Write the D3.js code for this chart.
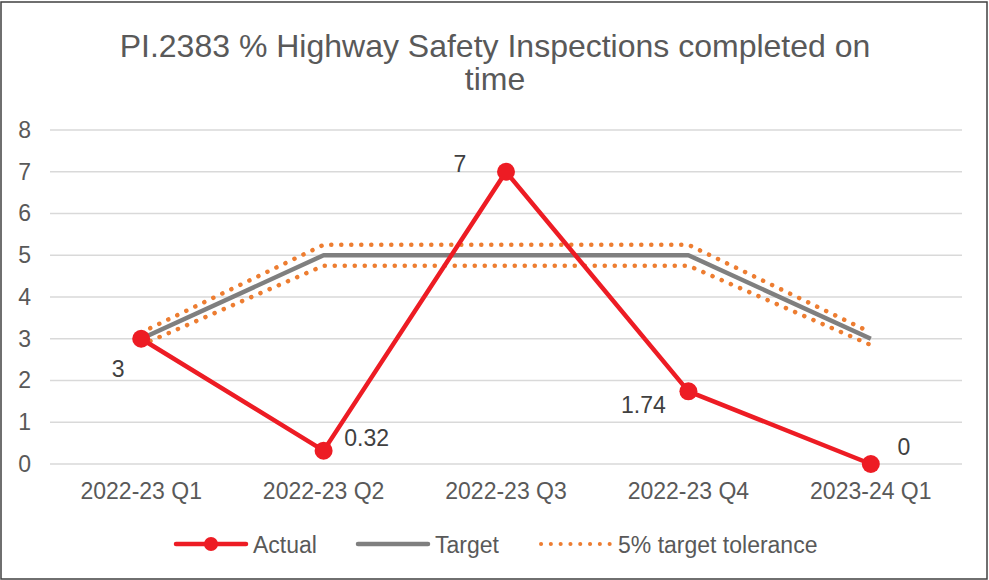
<!DOCTYPE html>
<html>
<head>
<meta charset="utf-8">
<script src="https://cdn.jsdelivr.net/npm/d3@7"></script>
<style>
  body { margin: 0; background: #fff; }
  svg text { font-family: "Liberation Sans", Arial, sans-serif; }
</style>
</head>
<body>
<div id="chart"></div>
<script>
const categories = ["2022-23 Q1", "2022-23 Q2", "2022-23 Q3", "2022-23 Q4", "2023-24 Q1"];
const actual = [3, 0.32, 7, 1.74, 0];
const target = [3, 5, 5, 5, 3];
const tolerance = 0.05;
const yTicks = [0, 1, 2, 3, 4, 5, 6, 7, 8];
const labelOffsets = [[-23, 30], [43, -13], [-46, -8], [-45, 14], [33, -17]];

const width = 989;
const height = 580;
const margin = { left: 50, right: 27, top: 130, bottom: 116 };

const svg = d3.select("#chart").append("svg")
  .attr("width", width)
  .attr("height", height);

svg.append("rect")
  .attr("x", 1).attr("y", 2)
  .attr("width", width - 3).attr("height", height - 3)
  .attr("fill", "#fff")
  .attr("stroke", "#404040")
  .attr("stroke-width", 1.5);

const x = d3.scaleBand()
  .domain(categories)
  .range([margin.left, width - margin.right]);

const y = d3.scaleLinear()
  .domain([0, 8])
  .range([height - margin.bottom, margin.top]);

const cx = (d) => x(d) + x.bandwidth() / 2;
const fs = 23;

// title
const title = svg.append("text")
  .attr("text-anchor", "middle")
  .attr("fill", "#595959")
  .attr("font-size", 32);
title.append("tspan").attr("x", 495).attr("y", 57).text("PI.2383 % Highway Safety Inspections completed on");
title.append("tspan").attr("x", 495).attr("y", 90).text("time");

// gridlines
svg.append("g")
  .selectAll("line")
  .data(yTicks)
  .join("line")
  .attr("x1", margin.left).attr("x2", width - margin.right)
  .attr("y1", (d) => y(d)).attr("y2", (d) => y(d))
  .attr("stroke", "#d9d9d9")
  .attr("stroke-width", 1.3);

// y axis
const yAxis = svg.append("g")
  .attr("transform", `translate(${margin.left - 19},0)`)
  .call(d3.axisLeft(y).tickValues(yTicks).tickSize(0).tickPadding(0));
yAxis.select(".domain").remove();
yAxis.selectAll("text")
  .attr("font-size", fs)
  .attr("fill", "#595959")
  .attr("font-family", "Liberation Sans, Arial, sans-serif");

// x axis
const xAxis = svg.append("g")
  .attr("transform", `translate(0,${y(0) + 27})`)
  .call(d3.axisBottom(x).tickSize(0).tickPadding(0));
xAxis.select(".domain").remove();
xAxis.selectAll("text")
  .attr("font-size", fs)
  .attr("fill", "#595959")
  .attr("dy", null)
  .attr("dominant-baseline", "central")
  .attr("font-family", "Liberation Sans, Arial, sans-serif");

const line = d3.line()
  .x((d, i) => cx(categories[i]))
  .y((d) => y(d));

// target
svg.append("path")
  .datum(target)
  .attr("d", line)
  .attr("fill", "none")
  .attr("stroke", "#7f7f7f")
  .attr("stroke-width", 4.5)
  .attr("stroke-linejoin", "round");

// tolerance bands
[1 + tolerance, 1 - tolerance].forEach((f) => {
  svg.append("path")
    .datum(target.map((t) => t * f))
    .attr("d", line)
    .attr("fill", "none")
    .attr("stroke", "#ED7D31")
    .attr("stroke-width", 4.5)
    .attr("stroke-linecap", "round")
    .attr("stroke-dasharray", "0.1 9.9");
});

// actual
svg.append("path")
  .datum(actual)
  .attr("d", line)
  .attr("fill", "none")
  .attr("stroke", "#ED1C24")
  .attr("stroke-width", 4.5)
  .attr("stroke-linejoin", "round");

svg.append("g")
  .selectAll("circle")
  .data(actual)
  .join("circle")
  .attr("cx", (d, i) => cx(categories[i]))
  .attr("cy", (d) => y(d))
  .attr("r", 9)
  .attr("fill", "#ED1C24");

svg.append("g")
  .selectAll("text")
  .data(actual)
  .join("text")
  .attr("x", (d, i) => cx(categories[i]) + labelOffsets[i][0])
  .attr("y", (d, i) => y(d) + labelOffsets[i][1])
  .attr("text-anchor", "middle")
  .attr("dominant-baseline", "central")
  .attr("font-size", fs)
  .attr("fill", "#404040")
  .text((d) => d);

// legend
const legend = svg.append("g").attr("transform", "translate(0,544)");
const legendItems = [
  { name: "Actual", x: 176, color: "#ED1C24", width: 4.5, dash: null, marker: true },
  { name: "Target", x: 358, color: "#7f7f7f", width: 4.5, dash: null, marker: false },
  { name: "5% target tolerance", x: 541, color: "#ED7D31", width: 4, dash: "0.1 9.7", marker: false }
];
legendItems.forEach((it) => {
  const g = legend.append("g");
  g.append("line")
    .attr("x1", it.x).attr("x2", it.x + 70)
    .attr("y1", 0).attr("y2", 0)
    .attr("stroke", it.color)
    .attr("stroke-width", it.width)
    .attr("stroke-linecap", "round")
    .attr("stroke-dasharray", it.dash);
  if (it.marker) {
    g.append("circle").attr("cx", it.x + 35).attr("cy", 0).attr("r", 7).attr("fill", it.color);
  }
  g.append("text")
    .attr("x", it.x + 77)
    .attr("y", 1)
    .attr("dominant-baseline", "central")
    .attr("font-size", fs)
    .attr("fill", "#595959")
    .text(it.name);
});
</script>
</body>
</html>
